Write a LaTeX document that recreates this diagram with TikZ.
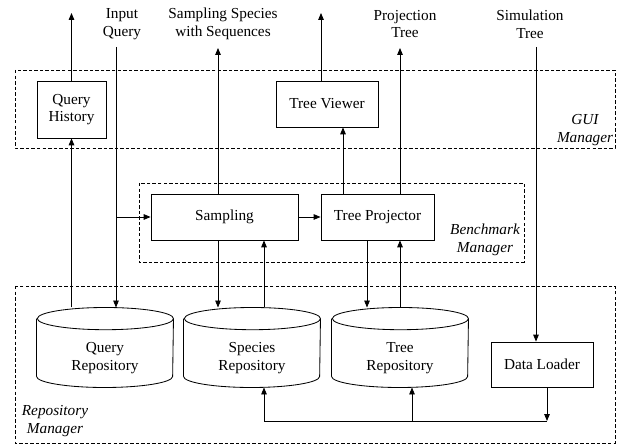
\documentclass[tikz,border=0pt]{standalone}
\usepackage{fontspec}
\setmainfont{Liberation Serif}
\usetikzlibrary{arrows.meta}

\tikzset{
  box/.style={draw, rectangle, align=center, inner sep=2pt},
  repo/.style={rectangle, minimum width=98pt, minimum height=57pt,
    align=center, inner sep=0pt, text height=35pt},
  frame/.style={draw, dash pattern=on 2.5pt off 1.5pt},
  lbl/.style={font=\fontsize{11}{12.7}\selectfont\itshape, align=center}
}

\begin{document}
\begin{tikzpicture}[x=0.72pt, y=-0.72pt, line width=0.6pt,
  font=\fontsize{11}{12.7}\selectfont,
  >={Triangle[length=5pt,width=4pt]}]
  \useasboundingbox (0,0) rectangle (618,445);
  \def\rx{49pt};
  \def\ry{8pt};

  % managers
  \begin{scope}
    \draw[frame] (15,70) rectangle (615,148);
    \draw[frame] (139,183) rectangle (524,262);
    \draw[frame] (15,286) rectangle (615,443);
    \node[lbl] (gui) at (585,130) {GUI\\Manager};
    \node[lbl] (bench) at (485,240) {Benchmark\\Manager};
    \node[lbl] (repoman) at (55,421) {Repository\\Manager};
  \end{scope}

  % components
  \node[box, minimum width=49.7pt, minimum height=41pt] (qh) at (71.5,109.5) {Query\\History};
  \node[box, minimum width=73.4pt, minimum height=33.1pt] (tv) at (327,104) {Tree Viewer};
  \node[box, minimum width=105.8pt, minimum height=33.1pt] (samp) at (224.5,217) {Sampling};
  \node[box, minimum width=81.4pt, minimum height=33.1pt] (tp) at (377.5,217) {Tree Projector};
  \node[box, minimum width=73.4pt, minimum height=32.4pt] (dl) at (542,364.5) {Data Loader};
  \node[repo] (qr) at (105,347.5) {Query\\Repository};
  \node[repo] (sr) at (252,347.5) {Species\\Repository};
  \node[repo] (tr) at (400,347.5) {Tree\\Repository};

  % repository cylinders
  \foreach \n in {qr, sr, tr} {
    \draw ([yshift=-\ry]\n.north west) -- ([yshift=\ry]\n.south west)
      arc[start angle=180, end angle=360, x radius=\rx, y radius=\ry]
      -- ([yshift=-\ry]\n.north east)
      arc[start angle=0, end angle=360, x radius=\rx, y radius=\ry];
  }

  % inputs and outputs
  \node[align=center] (inq) at (122,24) {Input\\Query};
  \node[align=center] (sss) at (223,24) {Sampling Species\\with Sequences};
  \node[align=center] (ptree) at (405,24) {Projection\\Tree};
  \node[align=center] (stree) at (530,24) {Simulation\\Tree};
  \coordinate (qhout) at (71.5,13);
  \coordinate (tvout) at (321,13);
  \coordinate (qin) at (116,47);
  \coordinate (sampout) at (218,48);
  \coordinate (tpout) at (400,48);
  \coordinate (simin) at (536,47);
  \coordinate (bus) at (547,421);

  % connectors
  \draw[->] (qh.north) -- (qhout);
  \draw[->] (qr.north -| qh.south) -- (qh.south);
  \draw[->] (qin) -- (qin |- qr.north);
  \draw[->] (qin |- samp.west) -- (samp.west);
  \draw[->] (samp.north -| sampout) -- (sampout);
  \draw[->] (samp.south -| sampout) -- (sampout |- sr.north);
  \draw[->] (sr.north -| 264,0) -- (samp.south -| 264,0);
  \draw[->] (samp.east) -- (tp.west);
  \draw[->] (tp.north -| 343,0) -- (tv.south -| 343,0);
  \draw[->] (tp.north -| tpout) -- (tpout);
  \draw[->] (tv.north -| tvout) -- (tvout);
  \draw[->] (tp.south -| 367,0) -- (tr.north -| 367,0);
  \draw[->] (tr.north -| tpout) -- (tp.south -| tpout);
  \draw[->] (simin) -- (simin |- dl.north);
  \draw[->] (dl.south -| bus) -- (bus);
  \draw[->] (bus) -- (264,421) -- (sr.south -| 264,0);
  \draw[->] (412,421) -- (tr.south -| 412,0);
\end{tikzpicture}
\end{document}
